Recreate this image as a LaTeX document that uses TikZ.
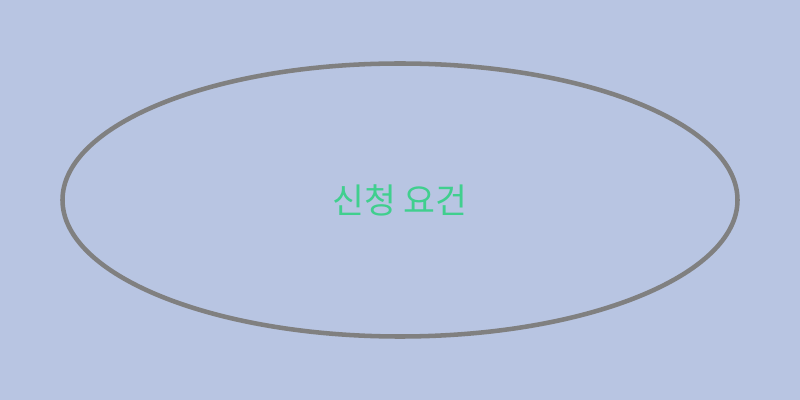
\documentclass[tikz,border=0pt]{standalone}
\usepackage{fontspec}
\newfontfamily\cjk{Noto Sans CJK KR}
\usetikzlibrary{shapes.geometric}
\definecolor{bgblue}{HTML}{B8C5E2}
\definecolor{rimgray}{HTML}{808080}
\definecolor{labelgreen}{HTML}{40CF8E}

\begin{document}
\begin{tikzpicture}[x=0.75pt,y=0.75pt,every node/.style={shape=ellipse,draw=rimgray,line width=3.4pt}]
	% background
	\fill[bgblue] (0,0) rectangle (800,400);
	\useasboundingbox (0,0) rectangle (800,400);
	% the one node
	\node (req) [minimum width=675*0.75pt,minimum height=273*0.75pt,inner sep=0pt,text=labelgreen,font=\cjk\fontsize{26}{30}\selectfont] at (400,200) {신청 요건};
\end{tikzpicture}
\end{document}
